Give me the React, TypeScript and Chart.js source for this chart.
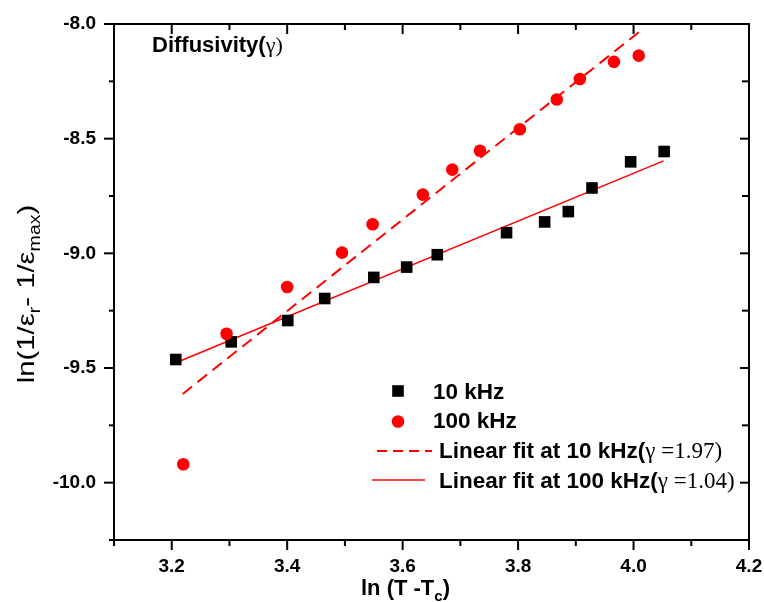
import React, { useEffect, useRef } from 'react';
import { Chart, registerables } from 'chart.js';
Chart.register(...registerables);

// ---- data ----
const x10kHz = [3.207, 3.303, 3.401, 3.465, 3.550, 3.607, 3.660, 3.780, 3.846, 3.887, 3.928, 3.995, 4.053];
const y10kHz = [-9.463, -9.386, -9.293, -9.197, -9.105, -9.060, -9.006, -8.910, -8.863, -8.818, -8.715, -8.601, -8.556];
const x100kHz = [3.220, 3.295, 3.400, 3.495, 3.548, 3.635, 3.686, 3.734, 3.803, 3.867, 3.907, 3.966, 4.009];
const y100kHz = [-9.920, -9.351, -9.147, -8.997, -8.873, -8.744, -8.635, -8.553, -8.459, -8.329, -8.240, -8.165, -8.138];
const fitDashX = [3.219, 4.009];
const fitDashY = [-9.613, -8.036];
const fitSolidX = [3.205, 4.052];
const fitSolidY = [-9.479, -8.597];

const xMajorTicks = [3.2, 3.4, 3.6, 3.8, 4.0, 4.2];
const xMinorTicks = [3.1, 3.3, 3.5, 3.7, 3.9, 4.1];
const yMajorTicks = [-10.0, -9.5, -9.0, -8.5, -8.0];
const yMinorTicks = [-10.25, -9.75, -9.25, -8.75, -8.25];

const legendLabels = ['10 kHz', '100 kHz', 'Linear fit at 10 kHz(', 'Linear fit at 100 kHz('];
const legendGamma = ['γ =1.97)', 'γ =1.04)'];
const titleText = 'Diffusivity(';
const titleGamma = 'γ)';

const SANS = "'Liberation Sans', Arial, sans-serif";
const SERIF = "'Liberation Serif', 'Times New Roman', serif";
const RED = '#ff0000';

const toPts = (xs: number[], ys: number[]) => xs.map((x, i) => ({ x, y: ys[i] }));

const decor = {
  id: 'decor',
  afterDraw(chart: any) {
    const ctx = chart.ctx as CanvasRenderingContext2D;
    const { left, right, top, bottom } = chart.chartArea;
    const xs = chart.scales.x;
    const ys = chart.scales.y;
    ctx.save();
    ctx.strokeStyle = '#000';
    ctx.lineWidth = 2;
    ctx.strokeRect(left, top, right - left, bottom - top);
    const seg = (x1: number, y1: number, x2: number, y2: number) => {
      ctx.beginPath();
      ctx.moveTo(x1, y1);
      ctx.lineTo(x2, y2);
      ctx.stroke();
    };
    xMajorTicks.forEach((v) => {
      const p = xs.getPixelForValue(v);
      seg(p, bottom, p, bottom + 10);
      seg(p, top, p, top + 10);
    });
    xMinorTicks.forEach((v) => {
      const p = xs.getPixelForValue(v);
      seg(p, bottom, p, bottom + 6);
      seg(p, top, p, top + 6);
    });
    yMajorTicks.forEach((v) => {
      const p = ys.getPixelForValue(v);
      seg(left - 10, p, left, p);
      seg(right - 9, p, right, p);
    });
    yMinorTicks.forEach((v) => {
      const p = ys.getPixelForValue(v);
      seg(left - 5, p, left, p);
      seg(right - 7, p, right, p);
    });

    ctx.fillStyle = '#000';
    ctx.textBaseline = 'alphabetic';
    ctx.textAlign = 'left';

    // title
    ctx.font = `bold 22px ${SANS}`;
    ctx.fillText(titleText, 152, 52);
    const w = ctx.measureText(titleText).width;
    ctx.font = `22px ${SERIF}`;
    ctx.fillText(titleGamma, 152 + w, 52);

    // legend
    ctx.fillStyle = '#000';
    ctx.fillRect(398 - 5.8, 391 - 5.8, 11.6, 11.6);
    ctx.fillStyle = RED;
    ctx.beginPath();
    ctx.arc(398, 421.5, 6.3, 0, Math.PI * 2);
    ctx.fill();
    ctx.strokeStyle = RED;
    ctx.lineWidth = 2;
    ctx.setLineDash([10, 6]);
    seg(377, 451, 432, 451);
    ctx.setLineDash([]);
    ctx.lineWidth = 1.5;
    seg(372, 480, 425, 480);

    ctx.fillStyle = '#000';
    ctx.font = `bold 22.5px ${SANS}`;
    ctx.fillText(legendLabels[0], 433, 399);
    ctx.fillText(legendLabels[1], 433, 428);
    const rows = [458, 488];
    [2, 3].forEach((k, i) => {
      ctx.font = `bold 22.5px ${SANS}`;
      ctx.fillText(legendLabels[k], 439, rows[i]);
      const lw = ctx.measureText(legendLabels[k]).width;
      ctx.font = `23px ${SERIF}`;
      ctx.fillText(legendGamma[i], 439 + lw, rows[i]);
    });

    // x axis title
    ctx.font = `bold 22px ${SANS}`;
    const xt1 = 'ln (T -T';
    ctx.fillText(xt1, 361, 595);
    let xw = ctx.measureText(xt1).width;
    ctx.font = `bold 15px ${SANS}`;
    ctx.fillText('c', 361 + xw, 601);
    xw += ctx.measureText('c').width;
    ctx.font = `bold 22px ${SANS}`;
    ctx.fillText(')', 361 + xw, 595);

    // y axis title (rotated)
    ctx.save();
    ctx.translate(34, 294);
    ctx.rotate(-Math.PI / 2);
    ctx.scale(1.22, 1);
    const parts: [string, string, number][] = [
      ['ln(1/ε', `24px ${SANS}`, 0],
      ['r', `16px ${SANS}`, 6],
      ['- 1/ε', `24px ${SANS}`, 0],
      ['max', `16px ${SANS}`, 6],
      [')', `24px ${SANS}`, 0],
    ];
    let total = 0;
    parts.forEach(([t, f]) => { ctx.font = f; total += ctx.measureText(t).width; });
    let cx = -total / 2;
    parts.forEach(([t, f, dy]) => {
      ctx.font = f;
      ctx.fillText(t, cx, dy);
      cx += ctx.measureText(t).width;
    });
    ctx.restore();

    ctx.restore();
  },
};

export default function App() {
  const ref = useRef<HTMLCanvasElement | null>(null);
  useEffect(() => {
    if (!ref.current) return;
    const chart = new Chart(ref.current, {
      type: 'scatter',
      data: {
        datasets: [
          {
            label: '10 kHz',
            data: toPts(x10kHz, y10kHz),
            pointStyle: 'rect',
            pointRadius: 8.2,
            backgroundColor: '#000',
            borderWidth: 0,
            showLine: false,
            order: 2,
          },
          {
            label: '100 kHz',
            data: toPts(x100kHz, y100kHz),
            pointStyle: 'circle',
            pointRadius: 6.3,
            backgroundColor: RED,
            borderWidth: 0,
            showLine: false,
            order: 1,
          },
          {
            label: 'Linear fit at 10 kHz',
            data: toPts(fitDashX, fitDashY),
            showLine: true,
            borderColor: RED,
            borderWidth: 2,
            borderDash: [12, 7],
            pointRadius: 0,
            order: 3,
          },
          {
            label: 'Linear fit at 100 kHz',
            data: toPts(fitSolidX, fitSolidY),
            showLine: true,
            borderColor: RED,
            borderWidth: 1.5,
            pointRadius: 0,
            order: 4,
          },
        ],
      },
      options: {
        responsive: false,
        animation: false,
        devicePixelRatio: 1,
        layout: { padding: { top: 24, right: 15, left: 0, bottom: 0 } },
        plugins: { legend: { display: false }, tooltip: { enabled: false } },
        scales: {
          x: {
            type: 'linear',
            min: 3.1,
            max: 4.2,
            grid: { display: false, drawTicks: false },
            border: { display: false },
            afterBuildTicks: (s: any) => { s.ticks = xMajorTicks.map((v) => ({ value: v })); },
            afterFit: (s: any) => { s.height = 62; s.paddingLeft = 0; s.paddingRight = 0; },
            ticks: {
              padding: 15,
              color: '#000',
              font: { family: SANS, size: 19, weight: 'bold' },
              callback: (v: any) => Number(v).toFixed(1),
            },
          },
          y: {
            type: 'linear',
            min: -10.25,
            max: -8.0,
            grid: { display: false, drawTicks: false },
            border: { display: false },
            afterBuildTicks: (s: any) => { s.ticks = yMajorTicks.map((v) => ({ value: v })); },
            afterFit: (s: any) => { s.width = 114; s.paddingTop = 0; s.paddingBottom = 0; },
            ticks: {
              padding: 18,
              color: '#000',
              font: { family: SANS, size: 19, weight: 'bold' },
              callback: (v: any) => Number(v).toFixed(1),
            },
          },
        },
      },
      plugins: [decor],
    } as any);
    return () => chart.destroy();
  }, []);
  return (
    <div style={{ position: 'fixed', left: 0, top: 0, width: 764, height: 602, background: '#fff' }}>
      <canvas ref={ref} width={764} height={602} style={{ display: 'block' }} />
    </div>
  );
}
